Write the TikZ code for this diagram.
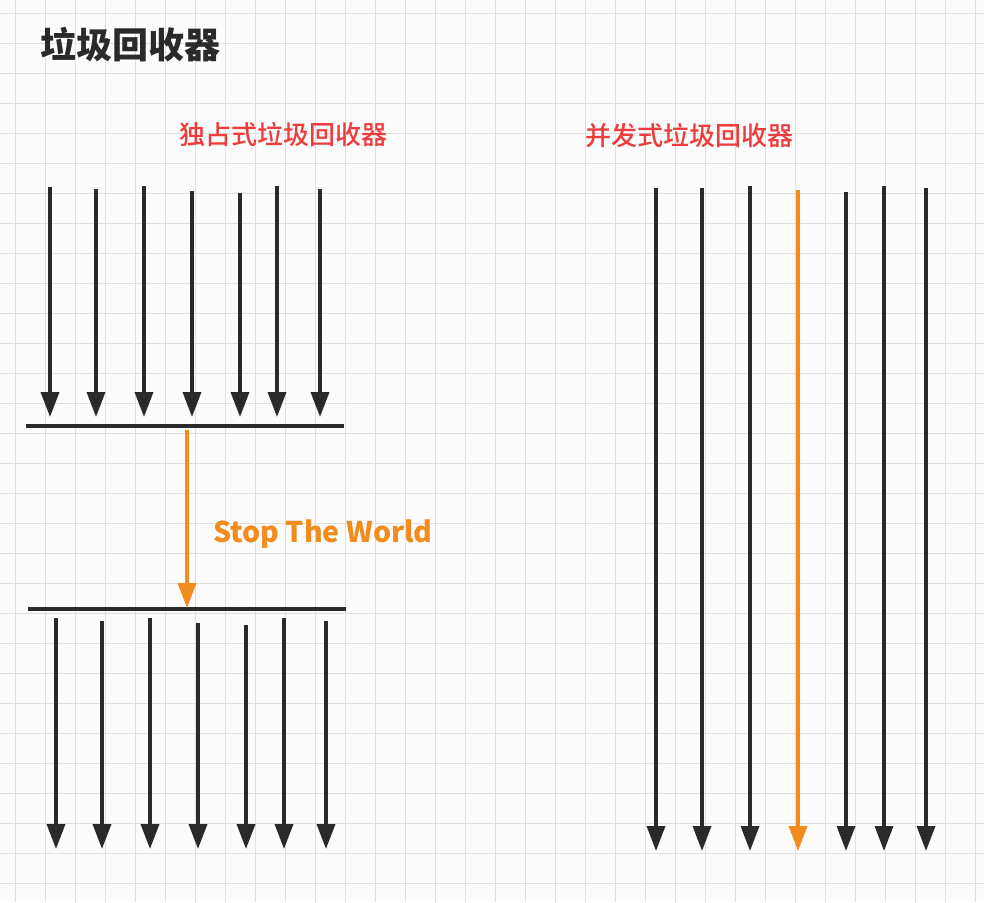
\documentclass[tikz,border=0pt]{standalone}
\usepackage{fontspec}
\setmainfont{Noto Sans}
\newfontfamily\cjk{Noto Sans CJK SC}
\newfontfamily\cjkmed{Noto Sans CJK SC Medium}
\usetikzlibrary{arrows.meta}
\definecolor{ink}{HTML}{2A2A2A}
\definecolor{orng}{HTML}{F28C1E}
\definecolor{redt}{HTML}{EE3B3B}
\definecolor{gridc}{HTML}{E0E0E0}
\definecolor{bgc}{HTML}{FCFCFC}
\begin{document}
\begin{tikzpicture}[x=1pt,y=-1pt,
  flow/.style={line width=3.5pt, draw=ink, -{Triangle[width=18pt,length=25pt]}},
  oflow/.style={line width=3.5pt, draw=orng, -{Triangle[width=18pt,length=25pt]}},
  bar/.style={line width=3.5pt, draw=ink},
  gridline/.style={draw=gridc, line width=1pt},
  redlabel/.style={font=\cjkmed\fontsize{26}{26}\selectfont, text=redt, inner sep=0pt},
  titlelabel/.style={font=\cjk\bfseries\fontsize{36}{36}\selectfont, text=ink, inner sep=0pt},
  stwlabel/.style={font=\cjk\bfseries\fontsize{28.5}{28.5}\selectfont, text=orng, inner sep=0pt}]
\fill[bgc] (0,0) rectangle (984,902);
\useasboundingbox (0,0) rectangle (984,902);
\foreach \x in {15,45,...,975} \draw[gridline] (\x,0) -- (\x,902);
\foreach \y in {13,43,...,893} \draw[gridline] (0,\y) -- (984,\y);

\node[titlelabel, anchor=west] (title) at (40,45) {垃圾回收器};
\node[redlabel] (lefthead) at (283,135) {独占式垃圾回收器};
\node[redlabel] (righthead) at (689,136) {并发式垃圾回收器};

% left top arrows
\foreach \i/\x/\t in {1/50/187,2/96/189,3/144/186,4/192/191,5/240/193,6/277/186,7/320/189} {
  \coordinate (lt\i) at (\x,\t);
  \coordinate (lb\i) at (\x,417);
  \draw[flow] (lt\i) -- (lb\i);
}
\coordinate (bar1l) at (26,426);
\coordinate (bar1r) at (344,426);
\draw[bar] (bar1l) -- (bar1r);
\coordinate (bar2l) at (28,609);
\coordinate (bar2r) at (346,609);
\draw[bar] (bar2l) -- (bar2r);

\coordinate (stwtop) at (187,430);
\coordinate (stwbot) at (187,608);
\draw[oflow] (stwtop) -- (stwbot);
\node[stwlabel, anchor=west] (stw) at (213,534) {Stop The World};

% left bottom arrows
\foreach \i/\x/\t in {1/56/618,2/102/621,3/150/618,4/198/623,5/246/625,6/284/618,7/326/621} {
  \coordinate (mt\i) at (\x,\t);
  \coordinate (mb\i) at (\x,849);
  \draw[flow] (mt\i) -- (mb\i);
}

% right arrows
\foreach \i/\x/\t in {1/656/188,2/702/188,3/750/186,5/846/192,6/884/186,7/926/188} {
  \coordinate (rt\i) at (\x,\t);
  \coordinate (rb\i) at (\x,851);
  \draw[flow] (rt\i) -- (rb\i);
}
\coordinate (rt4) at (798,190);
\coordinate (rb4) at (798,851);
\draw[oflow] (rt4) -- (rb4);
\end{tikzpicture}
\end{document}
